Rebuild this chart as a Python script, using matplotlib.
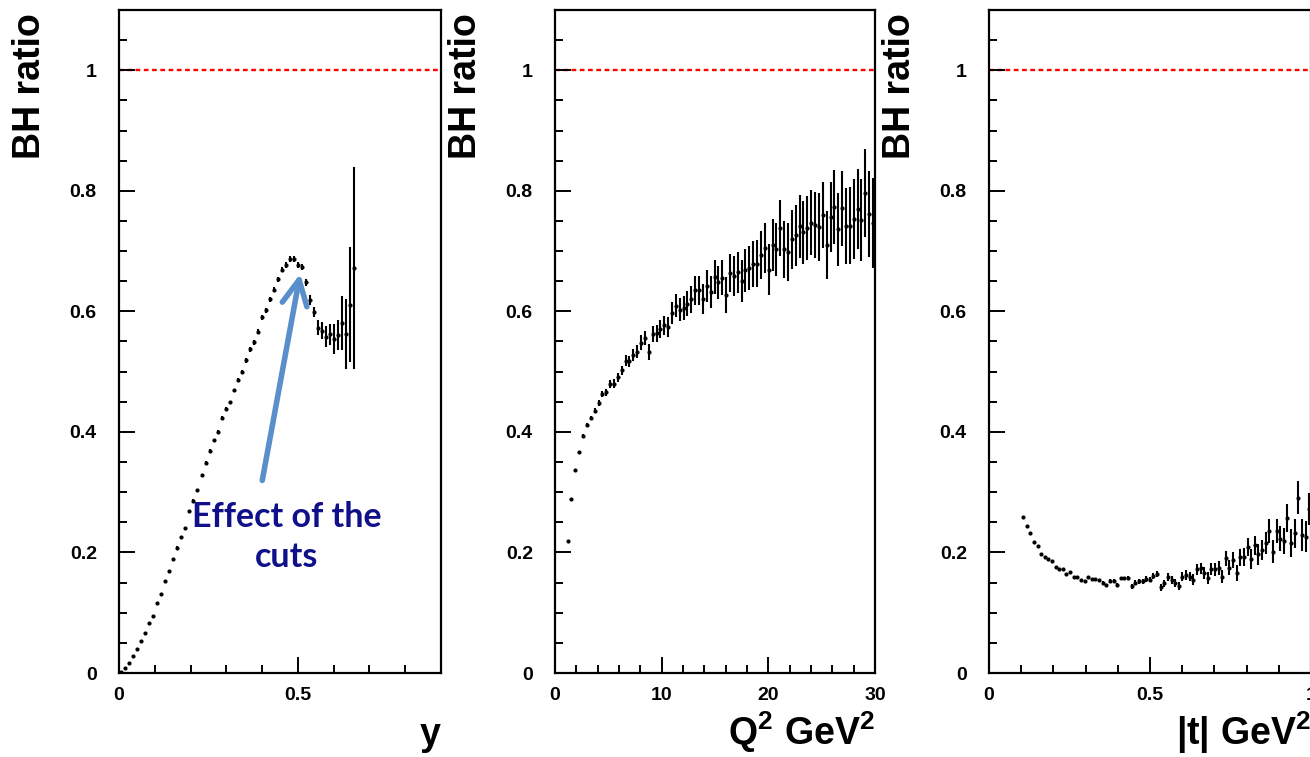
import numpy as np
import matplotlib
matplotlib.use("Agg")
import matplotlib.pyplot as plt
from matplotlib.ticker import MultipleLocator, FuncFormatter

# ---- data: BH ratio in bins of y, Q^2 and |t| ----
# y: 80 bins on [0, 0.9], only the filled ones
y_bin_width = 0.01125
y_ratio = [0.002, 0.008, 0.017, 0.029, 0.040, 0.053, 0.066, 0.083, 0.095, 0.116,
           0.131, 0.153, 0.169, 0.189, 0.208, 0.226, 0.241, 0.269, 0.286, 0.304,
           0.328, 0.348, 0.369, 0.386, 0.400, 0.423, 0.438, 0.449, 0.469, 0.486,
           0.500, 0.519, 0.537, 0.549, 0.566, 0.590, 0.602, 0.620, 0.636, 0.653,
           0.669, 0.677, 0.687, 0.687, 0.677, 0.673, 0.648, 0.619, 0.599, 0.573,
           0.568, 0.558, 0.562, 0.554, 0.561, 0.581, 0.562, 0.611, 0.672]
y_err = [0.0015, 0.0015, 0.0015, 0.0015, 0.0015, 0.0015, 0.0015, 0.0015, 0.0015, 0.0015,
         0.002, 0.002, 0.002, 0.002, 0.002, 0.002, 0.002, 0.002, 0.002, 0.002,
         0.002, 0.003, 0.003, 0.003, 0.003, 0.003, 0.003, 0.003, 0.003, 0.003,
         0.003, 0.004, 0.004, 0.004, 0.004, 0.004, 0.004, 0.004, 0.004, 0.004,
         0.004, 0.005, 0.005, 0.005, 0.005, 0.005, 0.006, 0.008, 0.008, 0.012,
         0.014, 0.017, 0.017, 0.025, 0.025, 0.045, 0.058, 0.095, 0.168]

# Q^2: 80 bins on [1, 30] GeV^2
q2_lo, q2_bin_width = 1.0, 0.3625
q2_ratio = [0.219, 0.288, 0.336, 0.366, 0.394, 0.411, 0.423, 0.435, 0.448, 0.463,
            0.466, 0.480, 0.480, 0.491, 0.502, 0.518, 0.517, 0.527, 0.533, 0.548,
            0.556, 0.533, 0.562, 0.564, 0.570, 0.577, 0.574, 0.597, 0.609, 0.603,
            0.605, 0.613, 0.620, 0.635, 0.635, 0.620, 0.642, 0.632, 0.657, 0.648,
            0.656, 0.627, 0.664, 0.659, 0.665, 0.651, 0.668, 0.672, 0.679, 0.679,
            0.693, 0.705, 0.669, 0.710, 0.703, 0.738, 0.703, 0.699, 0.720, 0.726,
            0.741, 0.731, 0.738, 0.747, 0.743, 0.740, 0.760, 0.710, 0.756, 0.773,
            0.736, 0.771, 0.742, 0.742, 0.753, 0.770, 0.752, 0.797, 0.762, 0.747]
q2_err = [0.0015, 0.002, 0.002, 0.0025, 0.003, 0.003, 0.0035, 0.004, 0.0045, 0.005,
          0.006, 0.0065, 0.007, 0.0075, 0.008, 0.009, 0.0095, 0.010, 0.011, 0.012,
          0.012, 0.013, 0.013, 0.014, 0.015, 0.016, 0.016, 0.018, 0.019, 0.019,
          0.020, 0.021, 0.022, 0.024, 0.024, 0.025, 0.026, 0.027, 0.028, 0.028,
          0.029, 0.030, 0.032, 0.033, 0.034, 0.035, 0.036, 0.037, 0.038, 0.039,
          0.040, 0.041, 0.042, 0.043, 0.044, 0.046, 0.047, 0.048, 0.049, 0.050,
          0.052, 0.052, 0.053, 0.054, 0.055, 0.056, 0.055, 0.057, 0.058, 0.061,
          0.060, 0.062, 0.063, 0.064, 0.066, 0.067, 0.068, 0.073, 0.071, 0.075]

# |t|: 80 bins on [0.1, 1.0] GeV^2
t_lo, t_bin_width = 0.1, 0.01125
t_ratio = [0.258, 0.244, 0.232, 0.217, 0.211, 0.198, 0.193, 0.189, 0.185, 0.176,
           0.173, 0.173, 0.164, 0.167, 0.159, 0.160, 0.155, 0.153, 0.159, 0.156,
           0.156, 0.154, 0.150, 0.146, 0.153, 0.153, 0.146, 0.157, 0.157, 0.158,
           0.144, 0.150, 0.152, 0.152, 0.156, 0.155, 0.161, 0.164, 0.142, 0.149,
           0.159, 0.154, 0.149, 0.144, 0.160, 0.163, 0.160, 0.155, 0.172, 0.174,
           0.166, 0.157, 0.172, 0.172, 0.174, 0.160, 0.190, 0.175, 0.187, 0.166,
           0.192, 0.192, 0.209, 0.189, 0.212, 0.197, 0.204, 0.216, 0.236, 0.201,
           0.236, 0.223, 0.219, 0.257, 0.216, 0.232, 0.291, 0.229, 0.226, 0.272]
t_err = [0.001, 0.001, 0.001, 0.001, 0.001, 0.001, 0.001, 0.001, 0.001, 0.001,
         0.0015, 0.0015, 0.0015, 0.0015, 0.0015, 0.0015, 0.0015, 0.0015, 0.0015, 0.0015,
         0.002, 0.002, 0.002, 0.002, 0.0025, 0.0025, 0.0025, 0.003, 0.003, 0.003,
         0.004, 0.004, 0.004, 0.004, 0.0045, 0.0045, 0.005, 0.005, 0.006, 0.006,
         0.0065, 0.0065, 0.007, 0.007, 0.007, 0.008, 0.008, 0.0085, 0.009, 0.009,
         0.0095, 0.010, 0.010, 0.0105, 0.011, 0.011, 0.012, 0.013, 0.013, 0.014,
         0.014, 0.015, 0.015, 0.016, 0.016, 0.017, 0.017, 0.018, 0.020, 0.019,
         0.020, 0.021, 0.021, 0.023, 0.023, 0.024, 0.028, 0.026, 0.026, 0.026]

y_centers = (np.arange(len(y_ratio)) + 0.5) * y_bin_width
q2_centers = q2_lo + (np.arange(len(q2_ratio)) + 0.5) * q2_bin_width
t_centers = t_lo + (np.arange(len(t_ratio)) + 0.5) * t_bin_width

plt.rcParams["font.family"] = ["Liberation Sans", "DejaVu Sans"]
plt.rcParams["font.weight"] = "bold"
plt.rcParams["mathtext.fontset"] = "custom"
plt.rcParams["mathtext.rm"] = "Liberation Sans"
plt.rcParams["mathtext.bf"] = "Liberation Sans:bold"
plt.rcParams["mathtext.it"] = "Liberation Sans:italic"

W, H = 1310, 757
fig = plt.figure(figsize=(W / 100, H / 100), dpi=100)


def add_panel(left, right):
    # pixel box of the frame: top at 10, bottom at 673
    return fig.add_axes([left / W, (H - 673) / H, (right - left) / W, 663 / H])


def style(ax, xmax, xmajor, xminor, xlabel):
    ax.set_xlim(0, xmax)
    ax.set_ylim(0, 1.1)
    ax.xaxis.set_major_locator(MultipleLocator(xmajor))
    ax.xaxis.set_minor_locator(MultipleLocator(xminor))
    ax.yaxis.set_major_locator(MultipleLocator(0.2))
    ax.yaxis.set_minor_locator(MultipleLocator(0.05))
    fmt = FuncFormatter(lambda v, p: f"{v:g}")
    ax.xaxis.set_major_formatter(fmt)
    ax.yaxis.set_major_formatter(fmt)
    ax.tick_params(which="both", direction="in", top=False, right=False,
                   width=1.4, labelsize=14)
    ax.tick_params(which="major", length=11.5)
    ax.tick_params(which="minor", length=5.5)
    ax.tick_params(axis="y", pad=16)
    ax.tick_params(axis="x", pad=10)
    for s in ax.spines.values():
        s.set_linewidth(1.6)
    ax.axhline(1.0, color="red", lw=1.7, ls=(0, (2.0, 1.5)), zorder=1)
    ax.text(1.0, -0.1086, xlabel, transform=ax.transAxes, ha="right",
            va="baseline", fontsize=27, fontweight="bold")
    width_px = ax.get_position().width * W
    ax.text(-107 / width_px, 1.0 - 3 / 663, "BH ratio", transform=ax.transAxes,
            rotation=90, ha="left", va="top", fontsize=27, fontweight="bold")


def draw(ax, x, v, e):
    ax.errorbar(x, v, yerr=e, fmt="o", ms=3.0, mew=0, color="black",
                ecolor="black", elinewidth=1.5, capsize=0, zorder=3)


ax1 = add_panel(119, 441)
ax2 = add_panel(555, 875)
ax3 = add_panel(989, 1311)

draw(ax1, y_centers, y_ratio, y_err)
draw(ax2, q2_centers, q2_ratio, q2_err)
draw(ax3, t_centers, t_ratio, t_err)

style(ax1, 0.9, 0.5, 0.1, "y")
style(ax2, 30, 10, 2, r"$\mathbf{Q^{2}\ GeV^{2}}$")
style(ax3, 1.0, 0.5, 0.1, r"$|\mathbf{t}|\ \mathbf{GeV^{2}}$")

# annotation on the y panel
ax1.annotate("", xy=(0.508, 0.667), xytext=(0.399, 0.315),
             arrowprops=dict(arrowstyle="->, head_length=0.9, head_width=0.45",
                             mutation_scale=20, lw=4.0, color="#5b8fcb"),
             zorder=4)
ax1.text(0.469, 0.225, "Effect of the\ncuts", ha="center", va="center",
         multialignment="center", fontsize=24.5, fontweight="bold",
         family=["Lato", "DejaVu Sans"], color="#10108a", linespacing=1.3,
         zorder=5)

fig.savefig("out.png", dpi=100)
